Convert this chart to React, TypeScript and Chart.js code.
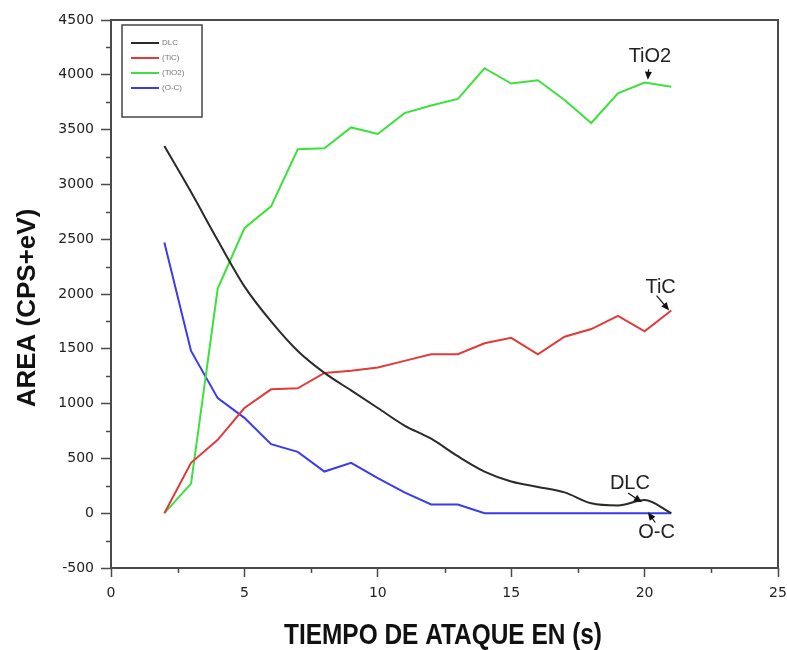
import React, { useEffect, useRef } from 'react';
import { Chart, registerables } from 'chart.js';

Chart.register(...registerables);

// ---- Data ----
const timeS = [2, 3, 4, 5, 6, 7, 8, 9, 10, 11, 12, 13, 14, 15, 16, 17, 18, 19, 20, 21];
const dlc = [3350, 2930, 2490, 2070, 1750, 1480, 1280, 1120, 960, 800, 680, 520, 380, 290, 240, 190, 90, 70, 120, 0];
const tic = [0, 460, 670, 960, 1130, 1140, 1280, 1300, 1330, 1390, 1450, 1450, 1550, 1600, 1450, 1610, 1680, 1800, 1660, 1850];
const tio2 = [0, 270, 2050, 2600, 2800, 3320, 3330, 3520, 3460, 3650, 3720, 3780, 4060, 3920, 3950, 3770, 3560, 3830, 3930, 3890];
const oc = [2470, 1480, 1050, 870, 630, 560, 380, 460, 320, 190, 80, 80, 0, 0, 0, 0, 0, 0, 0, 0];

const seriesNames = ['DLC', '(TiC)', '(TiO2)', '(O-C)'];
const seriesColors = ['#2a2a2a', '#e23a3a', '#3ee03e', '#3a3aee'];

const xMin = 0;
const xMax = 25;
const xStep = 5;
const yMin = -500;
const yMax = 4500;
const yStep = 500;

const xTitle = 'TIEMPO DE ATAQUE EN (s)';
const yTitle = 'AREA (CPS+eV)';

// annotations: label, label position (x,y), arrow tail (x,y), arrow tip (x,y)
const annotations = [
  { text: 'TiO2', lx: 20.2, ly: 4170, tx: 20.15, ty: 4050, hx: 20.12, hy: 3955 },
  { text: 'TiC', lx: 20.6, ly: 2060, tx: 20.45, ty: 1985, hx: 20.92, hy: 1850 },
  { text: 'DLC', lx: 19.45, ly: 275, tx: 19.38, ty: 185, hx: 19.9, hy: 100 },
  { text: 'O-C', lx: 20.45, ly: -180, tx: 20.4, ty: -85, hx: 20.12, hy: 8 },
];

const toPoints = (ys: number[]) => timeS.map((x, i) => ({ x, y: ys[i] }));

const decorPlugin = {
  id: 'decor',
  afterDraw(chart: any) {
    const { ctx, chartArea } = chart;
    const xs = chart.scales.x;
    const ys = chart.scales.y;
    const { left, right, top, bottom } = chartArea;
    ctx.save();

    // frame
    ctx.strokeStyle = '#4a4a4a';
    ctx.lineWidth = 2;
    ctx.strokeRect(left, top, right - left, bottom - top);

    // minor ticks
    ctx.lineWidth = 1.5;
    for (let v = yMin + yStep / 2; v < yMax; v += yStep) {
      const py = Math.round(ys.getPixelForValue(v)) + 0.5;
      ctx.beginPath();
      ctx.moveTo(left - 5, py);
      ctx.lineTo(left, py);
      ctx.stroke();
    }
    for (let v = xMin + xStep / 2; v < xMax; v += xStep) {
      const px = Math.round(xs.getPixelForValue(v)) + 0.5;
      ctx.beginPath();
      ctx.moveTo(px, bottom);
      ctx.lineTo(px, bottom + 5);
      ctx.stroke();
    }

    // legend
    const lx = left + 11;
    const ly = top + 5;
    ctx.strokeStyle = '#444';
    ctx.lineWidth = 1.5;
    ctx.strokeRect(lx, ly, 80, 92);
    ctx.font = '8px "Liberation Sans", Arial, sans-serif';
    ctx.textBaseline = 'middle';
    ctx.textAlign = 'left';
    seriesNames.forEach((name, i) => {
      const y = ly + 18 + i * 15;
      ctx.strokeStyle = seriesColors[i];
      ctx.lineWidth = 2;
      ctx.beginPath();
      ctx.moveTo(lx + 9, y);
      ctx.lineTo(lx + 37, y);
      ctx.stroke();
      ctx.fillStyle = '#777';
      ctx.fillText(name, lx + 40, y);
    });

    // annotations
    ctx.font = '20px "Liberation Sans", Arial, sans-serif';
    ctx.textAlign = 'center';
    ctx.textBaseline = 'middle';
    annotations.forEach((a) => {
      ctx.fillStyle = '#222';
      ctx.fillText(a.text, xs.getPixelForValue(a.lx), ys.getPixelForValue(a.ly));
      const x1 = xs.getPixelForValue(a.tx);
      const y1 = ys.getPixelForValue(a.ty);
      const x2 = xs.getPixelForValue(a.hx);
      const y2 = ys.getPixelForValue(a.hy);
      const ang = Math.atan2(y2 - y1, x2 - x1);
      ctx.strokeStyle = '#111';
      ctx.lineWidth = 1.2;
      ctx.beginPath();
      ctx.moveTo(x1, y1);
      ctx.lineTo(x2 - 6 * Math.cos(ang), y2 - 6 * Math.sin(ang));
      ctx.stroke();
      ctx.beginPath();
      ctx.moveTo(x2, y2);
      ctx.lineTo(x2 - 8 * Math.cos(ang) + 3.5 * Math.sin(ang), y2 - 8 * Math.sin(ang) - 3.5 * Math.cos(ang));
      ctx.lineTo(x2 - 8 * Math.cos(ang) - 3.5 * Math.sin(ang), y2 - 8 * Math.sin(ang) + 3.5 * Math.cos(ang));
      ctx.closePath();
      ctx.fillStyle = '#111';
      ctx.fill();
    });

    // axis titles
    ctx.fillStyle = '#111';
    ctx.textAlign = 'center';
    ctx.textBaseline = 'middle';
    ctx.font = 'bold 30px "Liberation Sans Narrow", "Liberation Sans", Arial, sans-serif';
    ctx.fillText(xTitle, 443, 636, 318);

    ctx.save();
    ctx.translate(28, 308);
    ctx.rotate(-Math.PI / 2);
    ctx.font = 'bold 26px "Liberation Sans", Arial, sans-serif';
    ctx.fillText(yTitle, 0, 0, 202);
    ctx.restore();

    ctx.restore();
  },
};

export default function App() {
  const ref = useRef<HTMLCanvasElement | null>(null);

  useEffect(() => {
    if (!ref.current) return;
    const mk = (label: string, data: number[], color: string, smooth: boolean) => ({
      label,
      data: toPoints(data),
      borderColor: color,
      backgroundColor: color,
      borderWidth: 2,
      pointRadius: 0,
      tension: smooth ? 0.4 : 0,
      cubicInterpolationMode: smooth ? 'monotone' : 'default',
      fill: false,
    });
    const tickFont = { family: '"DejaVu Sans", Arial, sans-serif', size: 14 };
    const chart = new Chart(ref.current, {
      type: 'line',
      data: {
        datasets: [
          mk(seriesNames[0], dlc, seriesColors[0], true),
          mk(seriesNames[1], tic, seriesColors[1], false),
          mk(seriesNames[2], tio2, seriesColors[2], false),
          mk(seriesNames[3], oc, seriesColors[3], false),
        ],
      },
      options: {
        responsive: false,
        animation: false,
        layout: { padding: { top: 20, right: 9, left: 0, bottom: 0 } },
        plugins: {
          legend: { display: false },
          tooltip: { enabled: false },
        },
        scales: {
          x: {
            type: 'linear',
            min: xMin,
            max: xMax,
            border: { display: false },
            grid: { drawOnChartArea: false, drawTicks: true, tickLength: 9, tickColor: '#4a4a4a', tickWidth: 1.5 },
            ticks: { stepSize: xStep, color: '#222', font: tickFont, padding: 8, maxRotation: 0, callback: (v: any) => String(v) },
            afterFit: (s: any) => { s.height = 82; s.paddingLeft = 0; s.paddingRight = 0; },
          },
          y: {
            type: 'linear',
            min: yMin,
            max: yMax,
            border: { display: false },
            grid: { drawOnChartArea: false, drawTicks: true, tickLength: 10, tickColor: '#4a4a4a', tickWidth: 1.5 },
            ticks: { stepSize: yStep, color: '#222', font: tickFont, padding: 7, callback: (v: any) => String(v) },
            afterFit: (s: any) => { s.width = 111; s.paddingTop = 0; s.paddingBottom = 0; },
          },
        },
      },
      plugins: [decorPlugin],
    } as any);
    return () => chart.destroy();
  }, []);

  return (
    <div style={{ position: 'absolute', left: 0, top: 0, width: 787, height: 650, background: '#fff' }}>
      <canvas ref={ref} width={787} height={650} />
    </div>
  );
}
